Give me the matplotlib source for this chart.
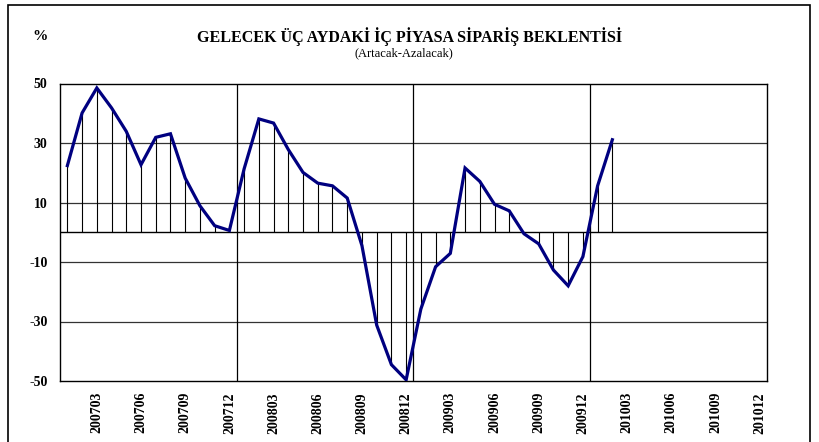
import matplotlib
matplotlib.use('Agg')
import matplotlib.pyplot as plt
from matplotlib.patches import Rectangle

months = ['200701', '200702', '200703', '200704', '200705', '200706',
          '200707', '200708', '200709', '200710', '200711', '200712',
          '200801', '200802', '200803', '200804', '200805', '200806',
          '200807', '200808', '200809', '200810', '200811', '200812',
          '200901', '200902', '200903', '200904', '200905', '200906',
          '200907', '200908', '200909', '200910', '200911', '200912',
          '201001', '201002', '201003', '201004', '201005', '201006',
          '201007', '201008', '201009', '201010', '201011', '201012']

values = [22.4, 40.1, 48.5, 41.8, 33.9, 22.7, 31.9, 33.1, 18.2, 8.9, 2.2, 0.6,
          21.3, 38.1, 36.7, 27.8, 20.1, 16.5, 15.6, 11.5, -4.5, -31.2, -44.5, -49.6,
          -25.8, -11.6, -7.1, 21.6, 17.1, 9.4, 7.2, -0.5, -3.9, -12.7, -18.0, -8.2,
          15.6, 31.1]

tick_labels = ['200703', '200706', '200709', '200712', '200803', '200806',
               '200809', '200812', '200903', '200906', '200909', '200912',
               '201003', '201006', '201009', '201012']
y_ticks = [-50, -30, -10, 10, 30, 50]
year_breaks = ['200801', '200901', '201001']

title = 'GELECEK ÜÇ AYDAKİ İÇ PİYASA SİPARİŞ BEKLENTİSİ'
subtitle = '(Artacak-Azalacak)'

plt.rcParams['font.family'] = ['Liberation Serif', 'DejaVu Serif']

fig = plt.figure(figsize=(8.2, 4.42), dpi=100)
W, H = 820, 442
ax = fig.add_axes([60 / W, 1 - 381 / H, (767 - 60) / W, (381 - 83.5) / H])

xs = [months.index(m) + 0.5 for m in months[:len(values)]]

# horizontal grid + zero line
for yv in [-30, -10, 10, 30]:
    ax.axhline(yv, color='#333333', lw=0.9, zorder=1)
ax.axhline(0, color='black', lw=1.0, zorder=1)
# year separators
for yb in year_breaks:
    ax.axvline(months.index(yb), color='black', lw=0.9, zorder=1)

# drop lines
ax.vlines(xs, 0, values, color='black', lw=0.8, zorder=2)
# main line
ax.plot(xs, values, color='#000080', lw=2.3, zorder=3, solid_joinstyle='miter')

ax.set_xlim(0, len(months))
ax.set_ylim(-50, 50)
ax.set_yticks(y_ticks)
ax.set_yticklabels([str(v) for v in y_ticks], fontsize=10, fontweight='bold')
ax.set_xticks([months.index(t) + 0.5 for t in tick_labels])
ax.set_xticklabels(tick_labels, rotation=90, fontsize=10, fontweight='bold')
ax.tick_params(axis='both', length=0)
ax.tick_params(axis='y', pad=9)
ax.tick_params(axis='x', pad=8)
for s in ax.spines.values():
    s.set_color('black')
    s.set_linewidth(1.0)

fig.text(410 / W, 1 - 37 / H, title, ha='center', va='center',
         fontsize=11.5, fontweight='bold')
fig.text(404 / W, 1 - 53 / H, subtitle, ha='center', va='center', fontsize=9)
fig.text(40 / W, 1 - 37 / H, '%', ha='center', va='center',
         fontsize=11, fontweight='bold')

# outer frame
fig.patches.append(Rectangle((8 / W, -0.05), (810 - 8) / W, 1.05 - 5 / H,
                             transform=fig.transFigure, fill=False,
                             edgecolor='black', lw=1.2))

fig.savefig('out.png', dpi=100)
